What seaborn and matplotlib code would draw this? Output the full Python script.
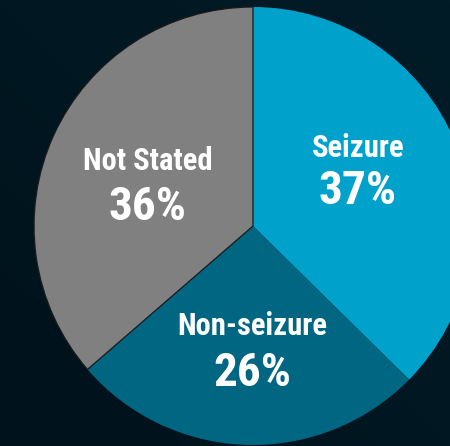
import matplotlib
matplotlib.use("Agg")
import matplotlib.pyplot as plt
from matplotlib import font_manager
import seaborn as sns
import numpy as np

sns.set_theme(style="dark")


def is_bold(w):
    if isinstance(w, int):
        return w >= 700
    return w in ('bold', 'heavy', 'extra bold', 'black', 'demibold', 'semibold')


# prefer an upright narrow bold sans (Arial Narrow look-alike) if installed
fonts = font_manager.fontManager.ttflist
narrow_bold = sorted({f.name for f in fonts
                      if ('Narrow' in f.name or 'Condensed' in f.name
                          or f.stretch in ('condensed', 'semi-condensed'))
                      and is_bold(f.weight) and f.style == 'normal'})
preferred = ['Liberation Sans Narrow', 'Arial Narrow', 'Roboto Condensed',
             'Open Sans Condensed', 'Noto Sans Condensed', 'DejaVu Sans Condensed']
pick = [n for n in preferred if n in narrow_bold][:1]
NARROW = bool(pick)
plt.rcParams['font.family'] = pick + ['Roboto', 'DejaVu Sans']

# Data
categories = ['Seizure', 'Non-seizure', 'Not Stated']
shares = [37, 26, 36]
colors = ['#00A2CC', '#006682', '#808080']

BG = '#01151e'

fig = plt.figure(figsize=(4.5, 4.46), dpi=100)
fig.patch.set_facecolor(BG)

# subtle background gradient (dark navy to dark teal)
bg_ax = fig.add_axes([0, 0, 1, 1])
grad = np.linspace(0, 1, 256)
gx, gy = np.meshgrid(grad, grad)
g = (gx + (1 - gy)) / 2
cmap = matplotlib.colors.LinearSegmentedColormap.from_list('bg', ['#00121b', '#021c27'])
bg_ax.imshow(g, cmap=cmap, aspect='auto', extent=[0, 1, 0, 1], origin='upper')
bg_ax.axis('off')

# pie axes: centre ~ (253, 226) px, radius ~ 219 px
W, H, R = 450, 446, 219
cx, cy = 253, 226
ax = fig.add_axes([(cx - R) / W, (H - cy - R) / H, 2 * R / W, 2 * R / H])
ax.set_facecolor('none')

wedges, _ = ax.pie(shares, colors=colors, startangle=90, counterclock=False,
                   radius=1, wedgeprops=dict(linewidth=0))
wedges[2].set_edgecolor('#1a1a1a')
wedges[2].set_linewidth(0.9)
ax.set_xlim(-1, 1)
ax.set_ylim(-1, 1)
ax.axis('off')


def px(x, y):
    return (x - cx) / R, (cy - y) / R


label_pos = {'Seizure': (358, 148, 191),
             'Non-seizure': (252, 326, 373),
             'Not Stated': (148, 161, 207)}

name_size, pct_size = (22, 34) if NARROW else (20.5, 30)

for cat, val in zip(categories, shares):
    x, y1, y2 = label_pos[cat]
    ax.text(*px(x, y1), cat, color='white', fontsize=name_size, fontweight='bold',
            fontstyle='normal', ha='center', va='center')
    ax.text(*px(x, y2), f'{val}%', color='white', fontsize=pct_size, fontweight='bold',
            fontstyle='normal', ha='center', va='center')

fig.savefig('out.png', dpi=100, facecolor=BG)
